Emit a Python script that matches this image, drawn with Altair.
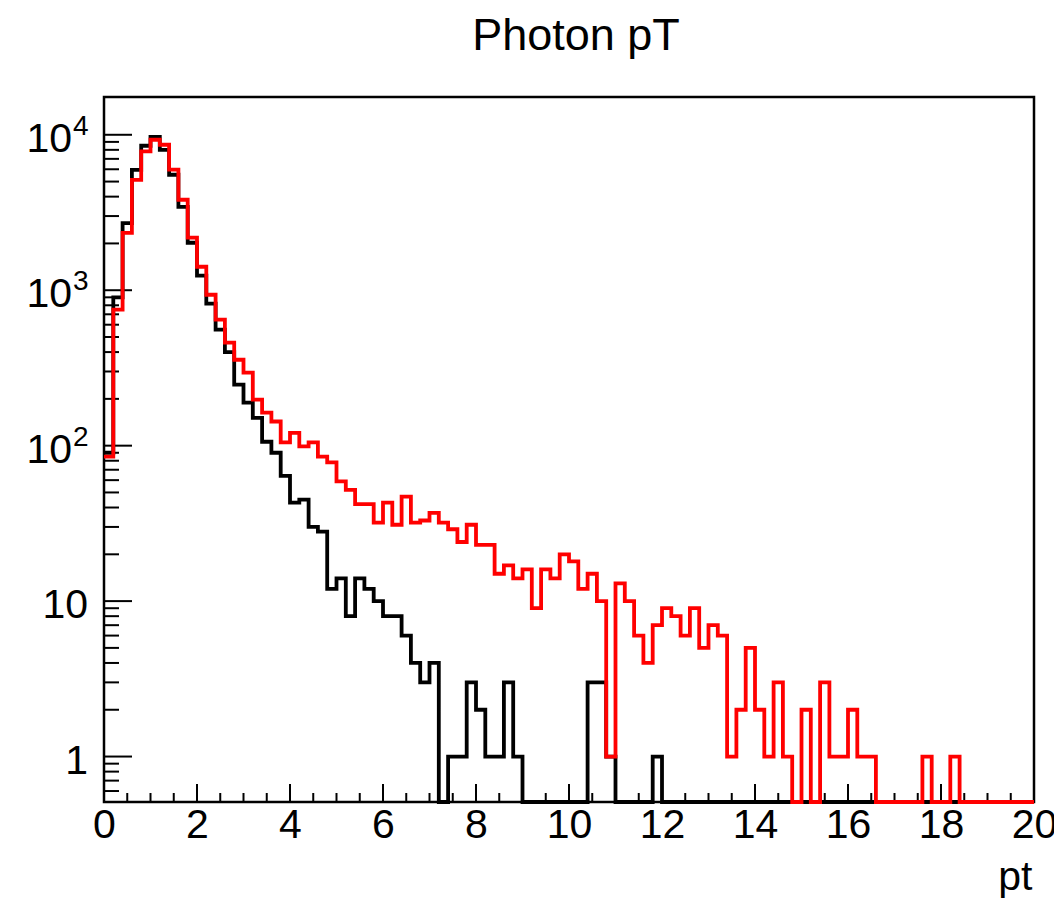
import altair as alt
import pandas as pd

FONT = "Liberation Sans"

title_text = "Photon pT"
x_title = "pt"

# histogram binning (100 bins of width 0.2 on [0, 20])
bin_width = 0.2
n_bins = 100
x_max = 20

black_counts = [
    90, 900, 2700, 5950, 8500, 9700, 8000, 5530, 3440, 2020,
    1240, 820, 557, 400, 247, 189, 151, 106, 90, 64,
    43, 45, 30, 28, 12, 14, 8, 14, 12, 10,
    8, 8, 6, 4, 3, 4, 0, 1, 1, 3,
    2, 1, 1, 3, 1, 0, 0, 0, 0, 0,
    0, 0, 3, 3, 1, 0, 0, 0, 0, 1,
    0, 0, 0, 0, 0, 0, 0, 0, 0, 0,
    0, 0, 0, 0, 0, 0, 0, 0, 0, 0,
    0, 0, 0, 0, 0, 0, 0, 0, 0, 0,
    0, 0, 0, 0, 0, 0, 0, 0, 0, 0,
]

red_counts = [
    85, 750, 2340, 5130, 7810, 9290, 8630, 5960, 3820, 2180,
    1416, 935, 646, 460, 357, 295, 198, 163, 143, 105,
    121, 99, 105, 85, 78, 59, 52, 42, 42, 32,
    43, 31, 47, 32, 33, 37, 32, 29, 24, 31,
    23, 23, 15, 17, 14, 16, 9, 16, 14, 20,
    18, 12, 15, 10, 1, 13, 10, 6, 4, 7,
    9, 8, 6, 9, 5, 7, 6, 1, 2, 5,
    2, 1, 3, 1, 0, 2, 0, 3, 1, 1,
    2, 1, 1, 0, 0, 0, 0, 0, 1, 0,
    0, 1, 0, 0, 0, 0, 0, 0, 0, 0,
]

x_major = [0, 2, 4, 6, 8, 10, 12, 14, 16, 18, 20]
x_minor = [0.5, 1, 1.5, 2.5, 3, 3.5, 4.5, 5, 5.5, 6.5, 7, 7.5, 8.5, 9, 9.5,
           10.5, 11, 11.5, 12.5, 13, 13.5, 14.5, 15, 15.5, 16.5, 17, 17.5,
           18.5, 19, 19.5]
y_major = [1, 10, 100, 1000, 10000]
y_label_base = ["1", "10", "10", "10", "10"]
y_label_exp = ["", "", "2", "3", "4"]
y_minor = [0.6, 0.7, 0.8, 0.9,
           2, 3, 4, 5, 6, 7, 8, 9,
           20, 30, 40, 50, 60, 70, 80, 90,
           200, 300, 400, 500, 600, 700, 800, 900,
           2000, 3000, 4000, 5000, 6000, 7000, 8000, 9000]

y_min = 0.51
y_max = 17500


def hist_frame(counts):
    rows = []
    for i, c in enumerate(counts):
        rows.append({"x": round(i * bin_width, 1), "count": c})
    rows.append({"x": x_max, "count": counts[-1]})
    return pd.DataFrame(rows)


xscale = alt.Scale(domain=[0, x_max], nice=False, zero=False)
yscale = alt.Scale(type="log", domain=[y_min, y_max], nice=False)

xaxis = alt.Axis(
    values=x_major, ticks=False, domain=False, grid=False,
    labelFont=FONT, labelFontSize=41, labelColor="black", labelPadding=3,
    labelFlush=False, labelOverlap=False, labelBound=False,
    title=x_title, titleFont=FONT, titleFontSize=41, titleFontWeight="normal",
    titleColor="black", titleAlign="right", titleBaseline="alphabetic",
    titleX=928, titleY=87, titleAnchor="end",
)


def hist_layer(counts, color):
    return (
        alt.Chart(hist_frame(counts))
        .transform_calculate(yv=f"max(datum.count, {y_min})")
        .mark_line(interpolate="step-after", color=color, strokeWidth=3.8,
                   strokeJoin="miter", strokeCap="butt")
        .encode(
            x=alt.X("x:Q", scale=xscale, axis=xaxis),
            y=alt.Y("yv:Q", scale=yscale, axis=None),
        )
    )


black_line = hist_layer(black_counts, "black")
red_line = hist_layer(red_counts, "red")

xmaj_ticks = alt.Chart(pd.DataFrame({"v": x_major})).mark_rule(
    color="black", strokeWidth=2).encode(
    x=alt.X("v:Q", scale=xscale, axis=xaxis),
    y=alt.value(705), y2=alt.value(687))
xmin_ticks = alt.Chart(pd.DataFrame({"v": x_minor})).mark_rule(
    color="black", strokeWidth=2).encode(
    x=alt.X("v:Q", scale=xscale, axis=xaxis),
    y=alt.value(705), y2=alt.value(696))
ymaj_ticks = alt.Chart(pd.DataFrame({"v": y_major})).mark_rule(
    color="black", strokeWidth=2).encode(
    y=alt.Y("v:Q", scale=yscale, axis=None),
    x=alt.value(0), x2=alt.value(28))
ymin_ticks = alt.Chart(pd.DataFrame({"v": y_minor})).mark_rule(
    color="black", strokeWidth=2).encode(
    y=alt.Y("v:Q", scale=yscale, axis=None),
    x=alt.value(0), x2=alt.value(15))

ylab = pd.DataFrame({"v": y_major, "base": y_label_base, "exp": y_label_exp})
ybase_exp = alt.Chart(ylab).transform_filter("datum.exp != ''").mark_text(
    align="right", baseline="alphabetic", font=FONT, fontSize=41,
    color="black", dy=17).encode(
    y=alt.Y("v:Q", scale=yscale, axis=None), x=alt.value(-32), text="base:N")
ybase_plain = alt.Chart(ylab).transform_filter("datum.exp == ''").mark_text(
    align="right", baseline="alphabetic", font=FONT, fontSize=41,
    color="black", dy=17).encode(
    y=alt.Y("v:Q", scale=yscale, axis=None), x=alt.value(-16), text="base:N")
yexp = alt.Chart(ylab).transform_filter("datum.exp != ''").mark_text(
    align="left", baseline="alphabetic", font=FONT, fontSize=28,
    color="black", dy=0).encode(
    y=alt.Y("v:Q", scale=yscale, axis=None), x=alt.value(-31), text="exp:N")

title_layer = alt.Chart(pd.DataFrame({"t": [title_text]})).mark_text(
    align="center", baseline="alphabetic", font=FONT, fontSize=45,
    color="black").encode(
    x=alt.value(472), y=alt.value(-47), text="t:N")

chart = alt.layer(
    xmaj_ticks, xmin_ticks, ymaj_ticks, ymin_ticks,
    black_line, red_line,
    ybase_exp, ybase_plain, yexp, title_layer,
).properties(
    width=930,
    height=705,
    autosize=alt.AutoSizeParams(type="none"),
    padding={"left": 96, "top": 89, "right": 20, "bottom": 98},
).configure(
    background="white"
).configure_view(
    stroke="black", strokeWidth=2.5
)

chart.save("out.html", embed_options={"renderer": "svg", "actions": False})
